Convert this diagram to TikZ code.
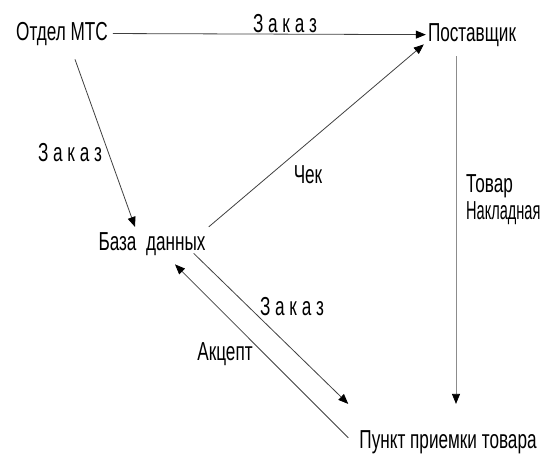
\documentclass[tikz,border=0pt]{standalone}
\usepackage{fontspec}
\setmainfont{Liberation Sans}[FakeStretch=0.66]
\newfontfamily\tightfont{Liberation Sans}[FakeStretch=0.56]
\usetikzlibrary{arrows.meta}

\begin{document}
\begin{tikzpicture}[x=1pt,y=-1pt,font=\fontsize{26}{27}\selectfont,
  every node/.style={inner sep=0pt,anchor=base},
  flow/.style={draw=black!75,line width=0.8pt,-{Triangle[length=10pt,width=8pt,black]}}]
\useasboundingbox (0,0) rectangle (552,455);
% places
\node (otdel) at (62,40) {Отдел МТС};
\node (post) at (472,41) {Поставщик};
\node (baza) at (152,250) {База\ \ данных};
\node (punkt) at (448,448) {Пункт приемки товара};
% flows
\draw[flow,shorten <=5pt,shorten >=2pt] (otdel.east) -- (post.west);
\draw[flow] ([xshift=13pt,yshift=-14pt]otdel.south) -- ([xshift=-17pt,yshift=5pt]baza.north);
\draw[flow] ([xshift=3pt,yshift=5pt]baza.north east) -- ([xshift=-4pt,yshift=2pt]post.south west);
\draw[flow,draw=black!45] ([xshift=-16pt,yshift=-10pt]post.south) -- ([xshift=8pt,yshift=26pt]punkt.north);
\draw[flow] ([xshift=-12pt,yshift=2pt]baza.south east) -- ([xshift=-11pt,yshift=26pt]punkt.north west);
\draw[flow] ([xshift=-11pt,yshift=4pt]punkt.west) -- ([xshift=23pt,yshift=-9pt]baza.south);
% labels
\node (zakaz1) at (285,32) {З а к а з};
\node (zakaz2) at (70,161) {З а к а з};
\node (chek) at (308,183) {Чек};
\node[align=left,anchor=north west] (tovar) at (466,174) {Товар\\{\tightfont Накладная}};
\node (zakaz3) at (292,315) {З а к а з};
\node (akcept) at (225,360) {Акцепт};
\end{tikzpicture}
\end{document}
